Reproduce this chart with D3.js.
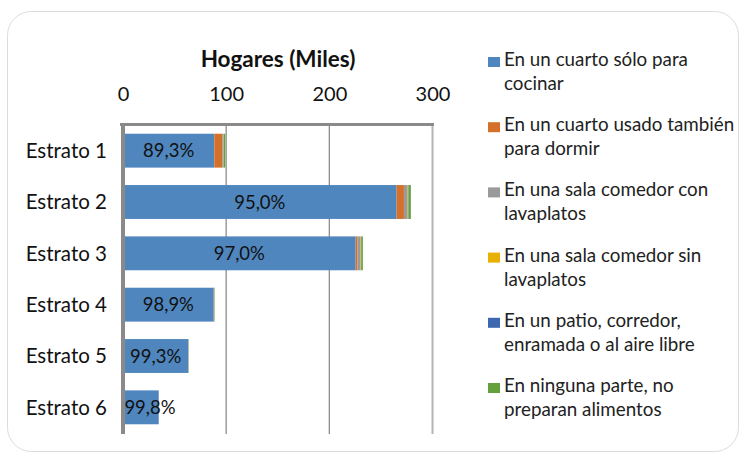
<!DOCTYPE html>
<html>
<head>
<meta charset="utf-8">
<script src="https://cdn.jsdelivr.net/npm/d3@7"></script>
<style>
  body { margin: 0; background: #fff; }
  svg { display: block; font-family: Lato, "Noto Sans", sans-serif; }
</style>
</head>
<body>
<div id="chart"></div>
<script>
// categorias (estratos) y series
var categories = ["Estrato 1", "Estrato 2", "Estrato 3", "Estrato 4", "Estrato 5", "Estrato 6"];
var seriesNames = [
  "En un cuarto sólo para\ncocinar",
  "En un cuarto usado también\npara dormir",
  "En una sala comedor con\nlavaplatos",
  "En una sala comedor sin\nlavaplatos",
  "En un patio, corredor,\nenramada o al aire libre",
  "En ninguna parte, no\npreparan alimentos"
];
var cocinar   = [88.5, 265.2, 225.5, 87.9, 63.3, 34.6];
var dormir    = [7.7, 7.1, 1.8, 0.2, 0.1, 0.02];
var salaCon   = [1.0, 3.6, 3.0, 0.3, 0.15, 0.02];
var salaSin   = [0.3, 0.5, 0.4, 0.1, 0.05, 0.01];
var patio     = [0.1, 0.3, 0.2, 0.05, 0.02, 0.01];
var ninguna   = [1.5, 2.3, 1.6, 0.35, 0.13, 0.01];
var pctLabels = ["89,3%", "95,0%", "97,0%", "98,9%", "99,3%", "99,8%"];
var ticks = [0, 100, 200, 300];
var colors = ["#4F86BE", "#D5702A", "#9A9A9A", "#E8B000", "#3D67AF", "#64A03C"];

var width = 740, height = 456;

var svg = d3.select("#chart").append("svg")
    .attr("width", width)
    .attr("height", height);

// tarjeta de fondo
svg.append("rect")
    .attr("x", 7.5).attr("y", 11.5)
    .attr("width", 731).attr("height", 440)
    .attr("rx", 24)
    .attr("fill", "#fff")
    .attr("stroke", "#dcdcdc");

var x = d3.scaleLinear().domain([0, 300]).range([123, 432.5]);
var y = d3.scaleBand().domain(categories).range([125, 433])
    .paddingInner(0.34).paddingOuter(0.17);

var series = [cocinar, dormir, salaCon, salaSin, patio, ninguna];
var rows = categories.map(function(c, i) {
  var r = { cat: c };
  series.forEach(function(s, k) { r["s" + k] = s[i]; });
  return r;
});
var keys = series.map(function(s, k) { return "s" + k; });
var stacked = d3.stack().keys(keys)(rows);

// lineas de cuadricula
svg.append("g").selectAll("line")
    .data(ticks.slice(1))
    .enter().append("line")
    .attr("x1", function(d) { return x(d); })
    .attr("x2", function(d) { return x(d); })
    .attr("y1", 125).attr("y2", 434)
    .attr("stroke", function(d) { return d === 300 ? "#b4b4b4" : "#8e8e8e"; })
    .attr("stroke-width", function(d) { return d === 300 ? 2 : 1.3; });

// barras apiladas
svg.append("g").selectAll("g")
    .data(stacked)
    .enter().append("g")
    .attr("fill", function(d, i) { return colors[i]; })
    .selectAll("rect")
    .data(function(d) { return d; })
    .enter().append("rect")
    .attr("x", function(d) { return x(d[0]); })
    .attr("y", function(d) { return y(d.data.cat); })
    .attr("width", function(d) { return Math.max(0, x(d[1]) - x(d[0])); })
    .attr("height", y.bandwidth());

// borde superior y eje vertical
svg.append("line")
    .attr("x1", 120).attr("x2", 434)
    .attr("y1", 124.5).attr("y2", 124.5)
    .attr("stroke", "#8a8a8a").attr("stroke-width", 3);
svg.append("line")
    .attr("x1", 123).attr("x2", 123)
    .attr("y1", 123).attr("y2", 434)
    .attr("stroke", "#8a8a8a").attr("stroke-width", 4);

// etiquetas de porcentaje
svg.append("g").selectAll("text")
    .data(stacked[0])
    .enter().append("text")
    .attr("x", function(d) {
      var c = (x(d[0]) + x(d[1])) / 2;
      return Math.max(c, x(0) + 27);
    })
    .attr("y", function(d) { return y(d.data.cat) + y.bandwidth() / 2 + 6.5; })
    .attr("text-anchor", "middle")
    .attr("font-size", 18.5)
    .attr("fill", "#111")
    .text(function(d, i) { return pctLabels[i]; });

// eje superior
var axis = svg.append("g")
    .attr("transform", "translate(0,101)")
    .call(d3.axisTop(x).tickValues(ticks).tickSize(0).tickPadding(0).tickFormat(d3.format("d")));
axis.select(".domain").remove();
axis.selectAll("text")
    .attr("font-size", 20)
    .attr("font-family", "Lato, sans-serif")
    .attr("fill", "#111")
    .attr("dy", 0);

// eje de categorias
var yAxis = svg.append("g")
    .attr("transform", "translate(107,0)")
    .call(d3.axisLeft(y).tickSize(0).tickPadding(0));
yAxis.select(".domain").remove();
yAxis.selectAll("text")
    .attr("font-size", 20.5)
    .attr("font-family", "Lato, sans-serif")
    .attr("fill", "#111")
    .attr("dy", "0.35em");

// titulo
svg.append("text")
    .attr("x", 278).attr("y", 67)
    .attr("text-anchor", "middle")
    .attr("font-size", 22.5)
    .attr("font-weight", "bold")
    .attr("fill", "#111")
    .text("Hogares (Miles)");

// leyenda
var legend = svg.append("g").selectAll("g")
    .data(seriesNames)
    .enter().append("g")
    .attr("transform", function(d, i) { return "translate(488," + (60 + i * 65.2) + ")"; });
legend.append("rect")
    .attr("x", 0).attr("y", -3)
    .attr("width", 12).attr("height", 10)
    .attr("fill", function(d, i) { return colors[i]; });
legend.append("text")
    .attr("x", 16).attr("y", 6)
    .attr("font-size", 18.8)
    .attr("fill", "#222")
    .selectAll("tspan")
    .data(function(d) { return d.split("\n"); })
    .enter().append("tspan")
    .attr("x", 16)
    .attr("dy", function(d, i) { return i === 0 ? 0 : 24; })
    .text(function(d) { return d; });
</script>
</body>
</html>
